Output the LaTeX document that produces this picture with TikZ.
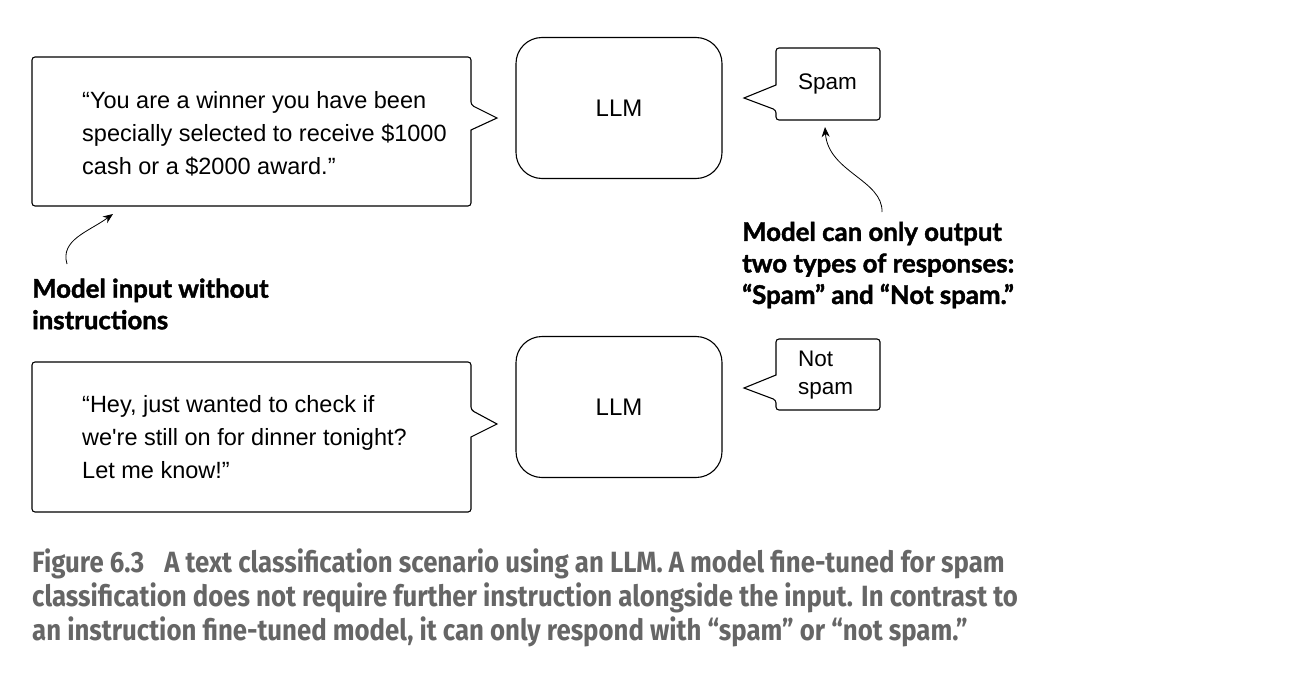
\documentclass[tikz,border=0pt]{standalone}
\usepackage{fontspec}
\setmainfont{Liberation Sans}
\newfontfamily\labfont[BoldFeatures={FakeBold=1.6}]{Lato}
\newfontfamily\capfont[FakeStretch=0.88]{Fira Sans}
\usetikzlibrary{arrows.meta,calc}
\definecolor{capgray}{HTML}{666666}
\begin{document}
\begin{tikzpicture}[x=1pt,y=-1pt,
  outline/.style={line width=1.1pt,rounded corners=3pt},
  llmbox/.style={draw,line width=1.1pt,rounded corners=26pt,minimum width=206pt,minimum height=141pt,font=\fontsize{24}{28}\selectfont},
  txt/.style={inner sep=0pt,align=left,anchor=west,font=\fontsize{23.5}{33}\selectfont},
  small/.style={inner sep=0pt,align=left,anchor=west,font=\fontsize{22.5}{28}\selectfont},
  lab/.style={inner sep=0pt,align=left,anchor=west,font=\labfont\bfseries\fontsize{25.8}{31.5}\selectfont},
  captext/.style={inner sep=0pt,align=left,anchor=west,text=capgray,font=\capfont\bfseries\fontsize{29.3}{34}\selectfont},
  arr/.style={line width=0.8pt,-{Stealth[length=10pt,width=8pt]}}
]
\useasboundingbox (0,0) rectangle (1300,674);

% ---------- top row ----------
\draw[outline] (32,57) -- (471,57) -- (471,105) [sharp corners] -- (497,118) -- (471,130) [rounded corners=3pt] -- (471,206) -- (32,206) -- cycle;
\node[txt] (t1) at (82,134) {“You are a winner you have been\\specially selected to receive \$1000\\cash or a \$2000 award.”};

\node[llmbox] (llm1) at (619,108) {LLM};

\draw[outline] (776,48) -- (880,48) -- (880,120) -- (776,120) -- (776,110) [sharp corners] -- (744,98) -- (776,85) [rounded corners=3pt] -- cycle;
\node[small] (spam) at (798,84) {Spam};

% ---------- bottom row ----------
\draw[outline] (32,362) -- (471,362) -- (471,410) [sharp corners] -- (497,424) -- (471,437) [rounded corners=3pt] -- (471,512) -- (32,512) -- cycle;
\node[txt] (t2) at (82,437) {“Hey, just wanted to check if\\we\textquotesingle re still on for dinner tonight?\\Let me know!”};

\node[llmbox] (llm2) at (619,407) {LLM};

\draw[outline] (776,339) -- (880,339) -- (880,410) -- (776,410) -- (776,400) [sharp corners] -- (744,388) -- (776,375) [rounded corners=3pt] -- cycle;
\node[small] (notspam) at (798,375.5) {Not\\spam};

% ---------- annotations ----------
\node[lab] (lab1) at (32,304) {Model input without\\instructions};
\node[lab] (lab2) at (742,265) {Model can only output\\two types of responses:\\“Spam” and “Not spam.”};

\coordinate (a1s) at (67,264);
\coordinate (a1e) at (113,214);
\draw[arr] (a1s) .. controls (60,240) and (88,232) .. (a1e);

\coordinate (a2s) at (882,212);
\coordinate (a2e) at (825,127);
\draw[arr] (a2s) .. controls (883,180) and (828,172) .. (a2e);

% ---------- caption ----------
\node[captext] (capt) at (32,598) {Figure 6.3\hspace{20pt}A text classification scenario using an LLM. A model fine-tuned for spam\\classification does not require further instruction alongside the input. In contrast to\\an instruction fine-tuned model, it can only respond with “spam” or “not spam.”};
\end{tikzpicture}
\end{document}
